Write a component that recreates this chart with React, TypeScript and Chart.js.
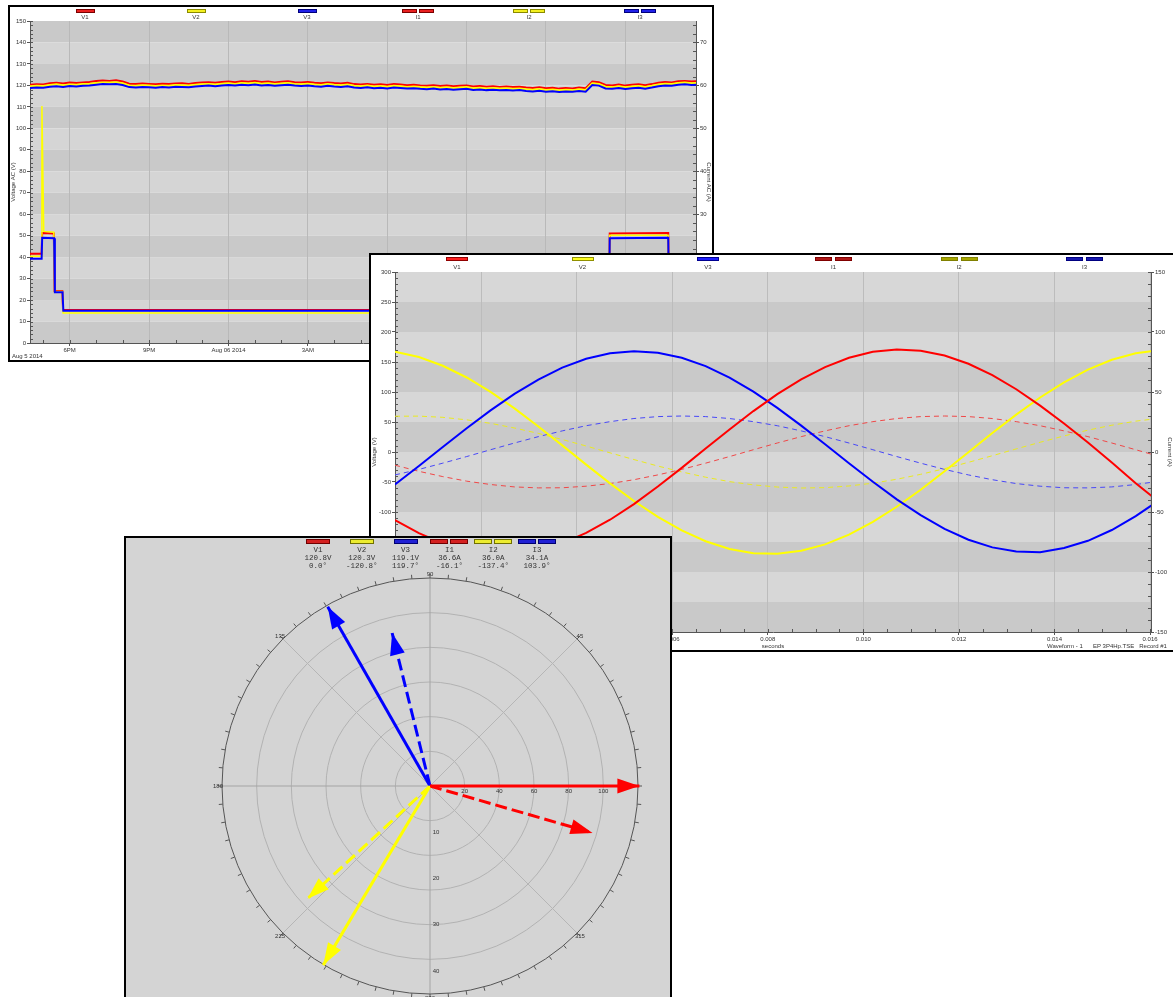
import React, { useEffect, useRef } from 'react';
import { Chart, registerables } from 'chart.js';
Chart.register(...registerables);

Chart.defaults.font.family = "'Liberation Sans', Arial, sans-serif";
Chart.defaults.color = '#333';

// ================= Trend chart (top panel) =================
const trendStartHour = 16.5; // hours since Aug 5 2014 00:00
const trendStepHours = 0.25;
const trendMinHour = 16.5;
const trendMaxHour = 41.67;
const trendV1 = [
  120.3, 120.5, 120.4,
  121.0, 121.2, 120.9, 121.3, 121.1, 121.4, 121.6,
  122.0, 122.3, 122.1, 122.4, 121.8,
  120.8, 120.6, 120.9, 120.7, 120.5, 120.8, 120.6, 120.9, 121.0, 120.7, 121.1,
  121.3, 121.5, 121.2, 121.6, 121.8, 121.5, 121.9, 121.7, 122.0, 121.6, 121.8, 121.4, 121.7, 121.9, 121.5,
  121.3, 121.6, 121.2, 121.0, 121.4, 121.1, 120.9, 121.2,
  120.6, 120.4, 120.7, 120.3, 120.5, 120.2, 120.6, 120.4, 120.1, 120.3, 120.0,
  119.8, 120.1, 119.7, 119.9, 119.6, 119.8, 120.0, 119.5, 119.7, 119.4, 119.6, 119.3, 119.5, 119.2, 119.4,
  119.0, 118.8, 119.1, 118.7, 118.9, 118.5, 118.8, 118.6, 119.0, 118.7,
  121.8, 121.5,
  120.2, 120.0, 120.4, 119.9, 120.3, 120.5, 120.1, 120.6,
  121.2, 121.6, 121.4, 121.9, 122.1, 121.8, 122.0,
];
const trendV2 = [
  119.6, 119.8, 119.7,
  120.2, 120.5, 120.1, 120.4, 120.3, 120.6, 120.8,
  121.1, 121.4, 121.3, 121.5, 121.0,
  120.0, 119.8, 120.1, 119.9, 119.7, 120.0, 119.8, 120.2, 120.1, 119.9, 120.3,
  120.5, 120.7, 120.4, 120.8, 121.0, 120.7, 121.1, 120.9, 121.2, 120.8, 121.0, 120.6, 120.9, 121.1, 120.7,
  120.5, 120.8, 120.4, 120.2, 120.6, 120.3, 120.1, 120.4,
  119.8, 119.6, 119.9, 119.5, 119.7, 119.4, 119.8, 119.6, 119.3, 119.5, 119.2,
  119.0, 119.3, 118.9, 119.1, 118.8, 119.0, 119.2, 118.7, 118.9, 118.6, 118.8, 118.5, 118.7, 118.4, 118.6,
  118.2, 118.0, 118.3, 117.9, 118.1, 117.7, 118.0, 117.8, 118.2, 117.9,
  121.0, 120.7,
  119.4, 119.2, 119.6, 119.1, 119.5, 119.7, 119.3, 119.8,
  120.4, 120.8, 120.6, 121.1, 121.3, 121.0, 121.2,
];
const trendV3 = [
  118.8, 119.0, 118.9,
  119.4, 119.6, 119.3, 119.7, 119.5, 119.8, 120.0,
  120.3, 120.6, 120.5, 120.7, 120.2,
  119.2, 119.0, 119.3, 119.1, 118.9, 119.2, 119.0, 119.4, 119.3, 119.1, 119.5,
  119.7, 119.9, 119.6, 120.0, 120.2, 119.9, 120.3, 120.1, 120.4, 120.0, 120.2, 119.8, 120.1, 120.3, 119.9,
  119.7, 120.0, 119.6, 119.4, 119.8, 119.5, 119.3, 119.6,
  119.0, 118.8, 119.1, 118.7, 118.9, 118.6, 119.0, 118.8, 118.5, 118.7, 118.4,
  118.2, 118.5, 118.1, 118.3, 118.0, 118.2, 118.4, 117.9, 118.1, 117.8, 118.0, 117.7, 117.9, 117.6, 117.8,
  117.4, 117.2, 117.5, 117.1, 117.3, 116.9, 117.2, 117.0, 117.4, 117.1,
  120.2, 119.9,
  118.6, 118.4, 118.8, 118.3, 118.7, 118.9, 118.5, 119.0,
  119.6, 120.0, 119.8, 120.3, 120.5, 120.2, 120.4,
];
const trendI1Hours = [16.5, 16.94, 16.96, 17.40, 17.43, 17.72, 17.75, 38.38, 38.41, 40.62, 40.66, 41.8];
const trendI1Amps = [20.8, 20.8, 25.6, 25.5, 12.1, 12.1, 7.7, 7.7, 25.5, 25.6, 7.7, 7.7];
const trendI2Hours = [16.5, 16.93, 16.95, 17.02, 17.40, 17.43, 17.72, 17.75, 38.38, 38.41, 40.62, 40.66, 41.8];
const trendI2Amps = [20.2, 20.2, 55.2, 26.0, 25.8, 12.0, 12.0, 7.0, 7.0, 25.1, 25.1, 7.2, 7.2];
const trendI3Hours = [16.5, 16.94, 16.96, 17.41, 17.44, 17.73, 17.76, 38.38, 38.41, 40.62, 40.66, 41.8];
const trendI3Amps = [19.6, 19.6, 24.5, 24.4, 11.8, 11.8, 7.5, 7.5, 24.4, 24.5, 7.5, 7.5];
const trendHourLabels: Record<number, string> = {
  18: '6PM', 21: '9PM', 24: 'Aug 06 2014', 27: '3AM', 30: '6AM', 33: '9AM', 36: '12PM', 39: '3PM',
};

// ================= Waveform chart (middle panel) =================
const waveStartSec = 0.0002;
const waveStepSec = 0.0005;
const waveMinSec = 0.0002;
const waveMaxSec = 0.01602;
const waveV1 = [-113.4, -135.3, -152.5, -164.3, -170.3, -170.2, -164.1, -152.2, -134.9, -112.9, -86.8, -57.6, -26.5, 5.7, 37.6, 68.2, 96.4, 121.2, 141.6, 157.0, 166.9, 170.9, 168.8, 160.8, 147.1, 128.1, 104.6, 77.3, 47.4, 15.8, -17.5, -52.0, -84.0];
const waveV2 = [167.1, 158.2, 143.7, 124.2, 100.2, 72.7, 42.6, 11.0, -21.0, -52.3, -81.6, -108.2, -130.8, -148.7, -161.6, -168.6, -169.7, -164.7, -154.0, -137.7, -116.6, -91.3, -62.9, -32.1, -0.3, 31.6, 62.3, 90.8, 116.1, 137.3, 153.7, 164.6, 169.6];
const waveV3 = [-54.1, -23.4, 8.2, 39.5, 69.4, 96.8, 120.8, 140.6, 155.4, 164.6, 168.0, 165.4, 157.1, 143.1, 124.1, 100.6, 73.6, 44.0, 12.9, -18.7, -49.7, -78.9, -105.3, -128.0, -146.2, -159.0, -166.0, -167.0, -160.0, -148.0, -130.0, -107.0, -80.0];
const waveI1 = [-11.0, -16.1, -20.5, -24.3, -27.1, -29.1, -29.9, -29.8, -28.5, -26.3, -23.1, -19.1, -14.5, -9.3, -3.8, 1.9, 7.5, 12.8, 17.6, 21.9, 25.3, 27.9, 29.5, 30.0, 29.5, 27.9, 25.3, 21.9, 17.6, 12.8, 7.5, 1.9, -3.8];
const waveI2 = [29.8, 29.9, 28.9, 26.8, 23.9, 20.0, 15.5, 10.4, 5.0, -0.7, -6.3, -11.7, -16.6, -21.0, -24.7, -27.4, -29.2, -30.0, -29.7, -28.3, -26.0, -22.7, -18.6, -13.9, -8.6, -3.1, 2.6, 8.1, 13.4, 18.2, 22.3, 25.7, 28.1];
const waveI3 = [-19.1, -14.5, -9.3, -3.8, 1.9, 7.5, 12.8, 17.6, 21.9, 25.3, 27.9, 29.5, 30.0, 29.5, 27.9, 25.3, 21.9, 17.6, 12.8, 7.5, 1.9, -3.8, -9.3, -14.5, -19.1, -23.1, -26.3, -28.5, -29.8, -29.9, -29.1, -27.1, -24.3];

// ================= Phasor diagram (bottom panel) =================
const phasorNames = ['V1', 'V2', 'V3', 'I1', 'I2', 'I3'];
const phasorMagnitudes = [120.8, 120.3, 119.1, 36.6, 36.0, 34.1];
const phasorUnits = ['V', 'V', 'V', 'A', 'A', 'A'];
const phasorAngles = [0.0, -120.8, 119.7, -16.1, -137.4, 103.9];
const phasorVoltFullScale = 120;
const phasorAmpFullScale = 45;
const phasorVoltRings = [20, 40, 60, 80, 100];
const phasorAmpLabels = [10, 20, 30, 40];
const phasorAngleLabels = [45, 90, 135, 180, 225, 270, 315];

// ================= styles =================
const RED = '#ff0000';
const YEL = '#ffff00';
const BLU = '#0000ff';
const FONT = "'Liberation Sans', Arial, sans-serif";
const tickFont = { family: FONT, size: 6 };

function makeBands(scaleId: string, min: number, max: number, step: number, colors: string[]) {
  return {
    id: 'bands_' + scaleId,
    beforeDraw(chart: any) {
      const s = chart.scales[scaleId];
      const a = chart.chartArea;
      const ctx = chart.ctx;
      ctx.save();
      const n = Math.round((max - min) / step);
      for (let i = 0; i < n; i++) {
        const v0 = max - i * step;
        const v1 = v0 - step;
        const y0 = s.getPixelForValue(v0);
        const y1 = s.getPixelForValue(v1);
        ctx.fillStyle = colors[i % 2];
        ctx.fillRect(a.left, y0, a.right - a.left, y1 - y0);
      }
      ctx.restore();
    },
  };
}

function makeMinorTicks(defs: { id: string; step: number }[], len: number) {
  return {
    id: 'minorTicks',
    beforeDatasetsDraw(chart: any) {
      const ctx = chart.ctx;
      const a = chart.chartArea;
      ctx.save();
      ctx.strokeStyle = '#555';
      ctx.lineWidth = 1;
      defs.forEach(({ id, step }) => {
        const s = chart.scales[id];
        const first = Math.ceil(s.min / step - 1e-6);
        const last = Math.floor(s.max / step + 1e-6);
        for (let k = first; k <= last; k++) {
          const p = Math.round(s.getPixelForValue(k * step)) + 0.5;
          ctx.beginPath();
          if (s.isHorizontal()) {
            ctx.moveTo(p, a.bottom);
            ctx.lineTo(p, a.bottom - len);
          } else if (s.position === 'left') {
            ctx.moveTo(a.left, p);
            ctx.lineTo(a.left + len, p);
          } else {
            ctx.moveTo(a.right, p);
            ctx.lineTo(a.right - len, p);
          }
          ctx.stroke();
        }
      });
      ctx.restore();
    },
  };
}

function yAxis(position: string, min: number, max: number, step: number, width: number, title: string) {
  return {
    type: 'linear',
    position,
    min,
    max,
    afterFit: (s: any) => { s.width = width; },
    ticks: { stepSize: step, autoSkip: false, includeBounds: false, font: tickFont, color: '#333', padding: 1 },
    grid: { color: 'transparent', tickColor: '#555', tickLength: 3, drawOnChartArea: false },
    border: { display: true, color: '#555' },
    title: { display: true, text: title, font: tickFont, color: '#333', padding: 0 },
  };
}

function useChart(build: () => any) {
  const ref = useRef<HTMLCanvasElement>(null);
  useEffect(() => {
    const chart = new Chart(ref.current as HTMLCanvasElement, build());
    return () => chart.destroy();
  }, []);
  return ref;
}

type LegendItem = { name: string; fill: string; edge: string; dashed: boolean };

function LegendRow(props: { items: LegendItem[]; x0: number; dx: number; barTop: number; labelTop: number; barW: number; dashW: number; gap: number; barH: number }) {
  const { items, x0, dx, barTop, labelTop, barW, dashW, gap, barH } = props;
  return (
    <>
      {items.map((it, i) => {
        const cx = x0 + dx * i;
        const bar = (w: number, left: number, key: string) => (
          <div key={key} style={{ position: 'absolute', left, top: barTop, width: w, height: barH, background: it.fill, border: '1px solid ' + it.edge, boxSizing: 'border-box' }} />
        );
        return (
          <React.Fragment key={it.name}>
            {it.dashed
              ? [bar(dashW, cx - dashW - gap / 2, 'a'), bar(dashW, cx + gap / 2, 'b')]
              : bar(barW, cx - barW / 2, 'a')}
            <div style={{ position: 'absolute', left: cx - 20, width: 40, top: labelTop, textAlign: 'center', fontSize: 6, lineHeight: '7px', color: '#333', fontFamily: FONT }}>{it.name}</div>
          </React.Fragment>
        );
      })}
    </>
  );
}

// ---------------- top panel ----------------
function TrendPanel() {
  const ref = useChart(() => {
    const pts = (arr: number[]) => arr.map((v, i) => ({ x: trendStartHour + i * trendStepHours, y: v }));
    const steps = (hrs: number[], amps: number[]) => hrs.map((h, i) => ({ x: h, y: amps[i] }));
    return {
      type: 'line',
      data: {
        datasets: [
          { label: 'V3', data: pts(trendV3), borderColor: BLU, borderWidth: 2, yAxisID: 'y', order: 0 },
          { label: 'V2', data: pts(trendV2), borderColor: YEL, borderWidth: 2, yAxisID: 'y', order: 1 },
          { label: 'V1', data: pts(trendV1), borderColor: RED, borderWidth: 2, yAxisID: 'y', order: 2 },
          { label: 'I3', data: steps(trendI3Hours, trendI3Amps), borderColor: BLU, borderWidth: 2, yAxisID: 'y1', order: 0 },
          { label: 'I2', data: steps(trendI2Hours, trendI2Amps), borderColor: YEL, borderWidth: 1.5, yAxisID: 'y1', order: 1 },
          { label: 'I1', data: steps(trendI1Hours, trendI1Amps), borderColor: RED, borderWidth: 2, yAxisID: 'y1', order: 2 },
        ],
      },
      options: {
        animation: false,
        responsive: false,
        events: [],
        layout: { padding: { top: 14, left: 0, right: 0, bottom: 0 } },
        elements: { point: { radius: 0 }, line: { tension: 0 } },
        plugins: { legend: { display: false }, tooltip: { enabled: false } },
        scales: {
          x: {
            type: 'linear',
            min: trendMinHour,
            max: trendMaxHour,
            afterFit: (s: any) => { s.height = 17; },
            ticks: {
              stepSize: 3, autoSkip: false, maxRotation: 0, includeBounds: false, font: tickFont, color: '#333', padding: 1,
              callback: (v: number) => trendHourLabels[Math.round(v)] ?? '',
            },
            grid: { color: '#b9b9b9', tickColor: '#555', tickLength: 3 },
            border: { display: true, color: '#555' },
          },
          y: yAxis('left', 0, 150, 10, 20, 'Voltage AC (V)'),
          y1: yAxis('right', 0, 75, 10, 16, 'Current AC (A)'),
        },
      },
      plugins: [
        makeBands('y', 0, 150, 10, ['#c9c9c9', '#d5d5d5']),
        makeMinorTicks([{ id: 'x', step: 1 }, { id: 'y', step: 2 }, { id: 'y1', step: 2 }], 3),
      ],
    };
  });
  const items: LegendItem[] = [
    { name: 'V1', fill: '#e82020', edge: '#7a0000', dashed: false },
    { name: 'V2', fill: '#f4f020', edge: '#8a8a00', dashed: false },
    { name: 'V3', fill: '#2020e8', edge: '#00007a', dashed: false },
    { name: 'I1', fill: '#e82020', edge: '#7a0000', dashed: true },
    { name: 'I2', fill: '#f4f020', edge: '#8a8a00', dashed: true },
    { name: 'I3', fill: '#2020e8', edge: '#00007a', dashed: true },
  ];
  return (
    <div style={{ position: 'absolute', left: 8, top: 5, width: 706, height: 357, border: '2px solid #000', boxSizing: 'border-box', background: '#fff', overflow: 'hidden' }}>
      <canvas ref={ref} width={702} height={353} style={{ position: 'absolute', left: 0, top: 0, width: 702, height: 353 }} />
      <LegendRow items={items} x0={75} dx={111} barTop={2} labelTop={7} barW={19} dashW={15} gap={2} barH={4} />
      <div style={{ position: 'absolute', left: 2, top: 346, fontSize: 6, lineHeight: '7px', color: '#333', fontFamily: FONT, whiteSpace: 'nowrap' }}>Aug 5 2014</div>
    </div>
  );
}

// ---------------- middle panel ----------------
function WavePanel() {
  const ref = useChart(() => {
    const pts = (arr: number[]) => arr.map((v, i) => ({ x: waveStartSec + i * waveStepSec, y: v }));
    const isMajor = (v: number) => Math.abs(v / 0.002 - Math.round(v / 0.002)) < 1e-6;
    return {
      type: 'line',
      data: {
        datasets: [
          { label: 'V1', data: pts(waveV1), borderColor: RED, borderWidth: 2, yAxisID: 'y' },
          { label: 'V3', data: pts(waveV3), borderColor: BLU, borderWidth: 2, yAxisID: 'y' },
          { label: 'V2', data: pts(waveV2), borderColor: YEL, borderWidth: 2, yAxisID: 'y' },
          { label: 'I1', data: pts(waveI1), borderColor: '#f04848', borderWidth: 1, borderDash: [5, 4], yAxisID: 'y1' },
          { label: 'I2', data: pts(waveI2), borderColor: '#eaea20', borderWidth: 1, borderDash: [5, 4], yAxisID: 'y1' },
          { label: 'I3', data: pts(waveI3), borderColor: '#4848f8', borderWidth: 1, borderDash: [5, 4], yAxisID: 'y1' },
        ],
      },
      options: {
        animation: false,
        responsive: false,
        events: [],
        layout: { padding: { top: 17, left: 0, right: 0, bottom: 0 } },
        elements: { point: { radius: 0 }, line: { tension: 0 } },
        plugins: { legend: { display: false }, tooltip: { enabled: false } },
        scales: {
          x: {
            type: 'linear',
            min: waveMinSec,
            max: waveMaxSec,
            afterFit: (s: any) => { s.height = 18; },
            ticks: {
              stepSize: 0.002, autoSkip: false, maxRotation: 0, includeBounds: false, font: tickFont, color: '#333', padding: 1,
              callback: (v: number) => (isMajor(v) ? v.toFixed(3) : ''),
            },
            grid: { color: '#bcbcbc', tickColor: '#555', tickLength: 3 },
            border: { display: true, color: '#555' },
            title: { display: true, text: 'seconds', font: tickFont, color: '#333', padding: 0 },
          },
          y: yAxis('left', -300, 300, 50, 24, 'Voltage (V)'),
          y1: yAxis('right', -150, 150, 50, 22, 'Current (A)'),
        },
      },
      plugins: [
        makeBands('y', -300, 300, 50, ['#d7d7d7', '#c9c9c9']),
        makeMinorTicks([{ id: 'x', step: 0.0005 }, { id: 'y', step: 10 }, { id: 'y1', step: 10 }], 3),
      ],
    };
  });
  const items: LegendItem[] = [
    { name: 'V1', fill: '#ff2020', edge: '#900000', dashed: false },
    { name: 'V2', fill: '#ffff20', edge: '#909000', dashed: false },
    { name: 'V3', fill: '#2020ff', edge: '#000090', dashed: false },
    { name: 'I1', fill: '#b01818', edge: '#800000', dashed: true },
    { name: 'I2', fill: '#a8a800', edge: '#808000', dashed: true },
    { name: 'I3', fill: '#1818b0', edge: '#000080', dashed: true },
  ];
  return (
    <div style={{ position: 'absolute', left: 369, top: 253, width: 806, height: 399, border: '2px solid #000', boxSizing: 'border-box', background: '#fff', overflow: 'hidden' }}>
      <canvas ref={ref} width={802} height={395} style={{ position: 'absolute', left: 0, top: 0, width: 802, height: 395 }} />
      <LegendRow items={items} x0={86} dx={125.5} barTop={2} labelTop={9} barW={22} dashW={17} gap={3} barH={4} />
      <div style={{ position: 'absolute', left: 676, top: 388, fontSize: 6, lineHeight: '7px', color: '#333', fontFamily: FONT, whiteSpace: 'nowrap' }}>Waveform - 1</div>
      <div style={{ position: 'absolute', left: 722, top: 388, fontSize: 6, lineHeight: '7px', color: '#333', fontFamily: FONT, whiteSpace: 'nowrap' }}>EP 3P4Hp.TSE&nbsp;&nbsp;&nbsp;Record #1</div>
    </div>
  );
}

// ---------------- bottom panel ----------------
function PhasorPanel() {
  const ref = useChart(() => {
    const ampToAxis = phasorVoltFullScale / phasorAmpFullScale;
    const colors = [RED, YEL, BLU, RED, YEL, BLU];
    const datasets = phasorNames.map((name, i) => {
      const m = phasorUnits[i] === 'V' ? phasorMagnitudes[i] : phasorMagnitudes[i] * ampToAxis;
      const a = (phasorAngles[i] * Math.PI) / 180;
      return {
        label: name,
        data: [{ x: 0, y: 0 }, { x: m * Math.cos(a), y: m * Math.sin(a) }],
        showLine: true,
        borderColor: colors[i],
        backgroundColor: colors[i],
        borderWidth: 3,
        borderDash: phasorUnits[i] === 'A' ? [12, 5] : [],
        pointRadius: 0,
        clip: false,
      };
    });
    const gridPlugin = {
      id: 'polarGrid',
      beforeDatasetsDraw(chart: any) {
        const { ctx } = chart;
        const sx = chart.scales.x;
        const sy = chart.scales.y;
        const cx = sx.getPixelForValue(0);
        const cy = sy.getPixelForValue(0);
        const R = sx.getPixelForValue(phasorVoltFullScale) - cx;
        ctx.save();
        ctx.lineWidth = 1;
        ctx.strokeStyle = '#b2b2b2';
        phasorVoltRings.forEach((v) => {
          const r = sx.getPixelForValue(v) - cx;
          ctx.beginPath();
          ctx.arc(cx, cy, r, 0, Math.PI * 2);
          ctx.stroke();
        });
        for (let d = 0; d < 360; d += 45) {
          const a = (d * Math.PI) / 180;
          ctx.strokeStyle = d % 90 === 0 ? '#a4a4a4' : '#b6b6b6';
          ctx.beginPath();
          ctx.moveTo(cx, cy);
          ctx.lineTo(cx + R * Math.cos(a), cy - R * Math.sin(a));
          ctx.stroke();
        }
        ctx.strokeStyle = '#555';
        ctx.beginPath();
        ctx.arc(cx, cy, R, 0, Math.PI * 2);
        ctx.stroke();
        for (let d = 0; d < 360; d += 5) {
          const a = (d * Math.PI) / 180;
          ctx.beginPath();
          ctx.moveTo(cx + R * Math.cos(a), cy - R * Math.sin(a));
          ctx.lineTo(cx + (R + 4) * Math.cos(a), cy - (R + 4) * Math.sin(a));
          ctx.stroke();
        }
        ctx.fillStyle = '#333';
        ctx.font = "6px 'Liberation Sans', Arial, sans-serif";
        ctx.textAlign = 'center';
        ctx.textBaseline = 'middle';
        phasorAngleLabels.forEach((d) => {
          const a = (d * Math.PI) / 180;
          ctx.fillText(String(d), cx + (R + 4) * Math.cos(a), cy - (R + 4) * Math.sin(a));
        });
        phasorVoltRings.forEach((v) => {
          const r = sx.getPixelForValue(v) - cx;
          ctx.fillText(String(v), cx + r, cy + 5);
        });
        phasorAmpLabels.forEach((v) => {
          const r = (v / phasorAmpFullScale) * R;
          ctx.fillText(String(v), cx + 6, cy + r);
        });
        ctx.restore();
      },
    };
    const arrowPlugin = {
      id: 'arrowHeads',
      afterDatasetsDraw(chart: any) {
        const ctx = chart.ctx;
        ctx.save();
        chart.data.datasets.forEach((ds: any, i: number) => {
          const meta = chart.getDatasetMeta(i);
          const p0 = meta.data[0];
          const p1 = meta.data[1];
          const ang = Math.atan2(p1.y - p0.y, p1.x - p0.x);
          const L = 22;
          const W = 7.5;
          const c = Math.cos(ang);
          const s = Math.sin(ang);
          ctx.beginPath();
          ctx.moveTo(p1.x, p1.y);
          ctx.lineTo(p1.x - L * c + W * s, p1.y - L * s - W * c);
          ctx.lineTo(p1.x - L * c - W * s, p1.y - L * s + W * c);
          ctx.closePath();
          ctx.fillStyle = ds.borderColor;
          ctx.fill();
        });
        ctx.restore();
      },
    };
    return {
      type: 'scatter',
      data: { datasets },
      options: {
        animation: false,
        responsive: false,
        events: [],
        layout: { padding: { left: 96, right: 32, top: 40, bottom: 10 } },
        plugins: { legend: { display: false }, tooltip: { enabled: false } },
        scales: {
          x: { type: 'linear', min: -phasorVoltFullScale, max: phasorVoltFullScale, display: false },
          y: { type: 'linear', min: -phasorVoltFullScale, max: phasorVoltFullScale, display: false },
        },
      },
      plugins: [gridPlugin, arrowPlugin],
    };
  });
  const headerFill = ['#d42020', '#ecec30', '#2020d4', '#d42020', '#ecec30', '#2020d4'];
  const headerEdge = ['#700000', '#707000', '#000070', '#700000', '#707000', '#000070'];
  const mono = "'Liberation Mono', 'Courier New', monospace";
  return (
    <div style={{ position: 'absolute', left: 124, top: 536, width: 548, height: 470, border: '2px solid #000', boxSizing: 'border-box', background: '#d4d4d4', overflow: 'hidden' }}>
      <canvas ref={ref} width={544} height={466} style={{ position: 'absolute', left: 0, top: 0, width: 544, height: 466 }} />
      {phasorNames.map((n, i) => {
        const cx = 192 + 43.8 * i;
        const isI = phasorUnits[i] === 'A';
        const deg = phasorAngles[i].toFixed(1) + '°';
        const bar = (w: number, left: number, k: string) => (
          <div key={k} style={{ position: 'absolute', left, top: 1, width: w, height: 5, background: headerFill[i], border: '1px solid ' + headerEdge[i], boxSizing: 'border-box' }} />
        );
        return (
          <React.Fragment key={n}>
            {isI ? [bar(18, cx - 19, 'a'), bar(18, cx + 1, 'b')] : bar(24, cx - 12, 'a')}
            <div style={{ position: 'absolute', left: cx - 25, width: 50, top: 8, textAlign: 'center', fontFamily: mono, fontSize: 7.5, lineHeight: '8px', color: '#333', whiteSpace: 'pre' }}>
              {n + '\n' + phasorMagnitudes[i].toFixed(1) + phasorUnits[i] + '\n' + deg}
            </div>
          </React.Fragment>
        );
      })}
    </div>
  );
}

export default function App() {
  return (
    <div style={{ position: 'fixed', left: 0, top: 0, width: 1173, height: 997, overflow: 'hidden', background: '#fff', fontFamily: FONT }}>
      <TrendPanel />
      <WavePanel />
      <PhasorPanel />
    </div>
  );
}
